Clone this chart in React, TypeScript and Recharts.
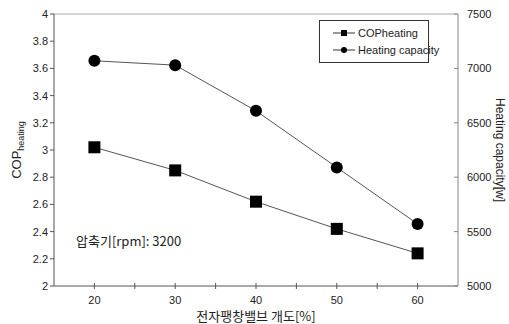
import React from "react";
import {
  LineChart,
  Line,
  XAxis,
  YAxis,
  ReferenceLine,
  Customized,
} from "recharts";

const openings = [20, 30, 40, 50, 60];
const copHeating = [3.02, 2.85, 2.62, 2.42, 2.24];
const heatingCapacity = [7070, 7030, 6610, 6090, 5570];
const xTicks = [20, 25, 30, 35, 40, 45, 50, 55, 60];
const leftTicks = [2, 2.2, 2.4, 2.6, 2.8, 3, 3.2, 3.4, 3.6, 3.8, 4];
const rightTicks = [5000, 5500, 6000, 6500, 7000, 7500];
const seriesNames = ["COPheating", "Heating capacity"];

const data = openings.map((o, i) => ({
  opening: o,
  cop: copHeating[i],
  cap: heatingCapacity[i],
}));

const FONT = "'Liberation Sans', Arial, sans-serif";
const KFONT = "'Noto Sans CJK KR', 'Liberation Sans', sans-serif";
const TXT = "#222";

const SquareDot = (props: any) => {
  const { cx, cy } = props;
  if (cx == null || cy == null) return null;
  return <rect x={cx - 6} y={cy - 6} width={12} height={12} fill="#000" />;
};
const CircleDot = (props: any) => {
  const { cx, cy } = props;
  if (cx == null || cy == null) return null;
  return <circle cx={cx} cy={cy} r={6} fill="#000" />;
};

const XTick = (props: any) => {
  const { x, y, payload } = props;
  const v = payload.value;
  return (
    <g>
      <line x1={x} x2={x} y1={y - 3} y2={y + 3} stroke="#555" />
      {v % 10 === 0 && (
        <text x={x} y={y + 18} textAnchor="middle" fontSize={11} fontFamily={FONT} fill={TXT}>
          {v}
        </text>
      )}
    </g>
  );
};

const RightTick = (props: any) => {
  const { x, y, payload } = props;
  return (
    <g>
      <line x1={x - 4} x2={x} y1={y} y2={y} stroke="#888" />
      <text x={x + 9} y={y + 4} fontSize={11} fontFamily={FONT} fill={TXT}>
        {payload.value}
      </text>
    </g>
  );
};

const LegendSvg = () => {
  const x0 = 319;
  const y0 = 20;
  return (
    <g>
      <rect x={x0 + 0.5} y={y0 + 0.5} width={109} height={42} fill="#fff" stroke="#333" />
      <line x1={x0 + 14} x2={x0 + 36} y1={y0 + 13} y2={y0 + 13} stroke="#333" />
      <rect x={x0 + 22} y={y0 + 10} width={6} height={6} fill="#000" />
      <text x={x0 + 39} y={y0 + 17} fontSize={11} fontFamily={FONT} fill={TXT}>
        {seriesNames[0]}
      </text>
      <line x1={x0 + 14} x2={x0 + 36} y1={y0 + 30} y2={y0 + 30} stroke="#333" />
      <circle cx={x0 + 25} cy={y0 + 30} r={3} fill="#000" />
      <text x={x0 + 39} y={y0 + 34} fontSize={11} fontFamily={FONT} fill={TXT}>
        {seriesNames[1]}
      </text>
    </g>
  );
};

export default function App() {
  return (
    <div style={{ position: "absolute", left: 0, top: 0, background: "#fff" }}>
      <LineChart
        width={509}
        height={324}
        data={data}
        margin={{ top: 14, right: 0, bottom: 0, left: 0 }}
      >
        <XAxis
          dataKey="opening"
          type="number"
          domain={[15, 65]}
          ticks={xTicks}
          interval={0}
          height={38}
          tickLine={false}
          tickSize={0}
          tickMargin={0}
          axisLine={{ stroke: "#555" }}
          tick={<XTick />}
          label={{
            content: (p: any) => {
              const vb = p.viewBox || {};
              return (
                <text
                  x={vb.x + vb.width / 2}
                  y={vb.y + 35}
                  textAnchor="middle"
                  fontSize={13}
                  fontFamily={KFONT}
                  fill={TXT}
                >
                  전자팽창밸브 개도[%]
                </text>
              );
            },
          }}
        />
        <YAxis
          yAxisId="left"
          orientation="left"
          domain={[2, 4]}
          ticks={leftTicks}
          interval={0}
          width={54}
          tickSize={4}
          tickLine={{ stroke: "#555" }}
          axisLine={{ stroke: "#555" }}
          tick={{ fontSize: 11, fontFamily: FONT, fill: TXT }}
          tickFormatter={(v: number) => String(Math.round(v * 10) / 10)}
          label={{
            content: (p: any) => {
              const vb = p.viewBox || {};
              const cx = 18;
              const cy = vb.y + vb.height / 2;
              return (
                <text
                  transform={`translate(${cx},${cy}) rotate(-90)`}
                  textAnchor="middle"
                  fontSize={13}
                  fontFamily={FONT}
                  fill={TXT}
                  dominantBaseline="middle"
                >
                  COP
                  <tspan fontSize={9} dy={4}>heating</tspan>
                </text>
              );
            },
          }}
        />
        <YAxis
          yAxisId="right"
          orientation="right"
          domain={[5000, 7500]}
          ticks={rightTicks}
          interval={0}
          width={51}
          tickLine={false}
          tickSize={0}
          tickMargin={0}
          axisLine={{ stroke: "#888" }}
          tick={<RightTick />}
          label={{
            content: (p: any) => {
              const vb = p.viewBox || {};
              const cx = 499;
              const cy = vb.y + vb.height / 2;
              return (
                <text
                  transform={`translate(${cx},${cy}) rotate(90)`}
                  textAnchor="middle"
                  fontSize={12}
                  fontFamily={FONT}
                  fill={TXT}
                  dominantBaseline="middle"
                >
                  Heating capacity[w]
                </text>
              );
            },
          }}
        />
        <ReferenceLine yAxisId="left" y={4} stroke="#aaa" />
        <Line
          yAxisId="left"
          dataKey="cop"
          stroke="#555"
          strokeWidth={1}
          dot={<SquareDot />}
          activeDot={false}
          isAnimationActive={false}
          name={seriesNames[0]}
        />
        <Line
          yAxisId="right"
          dataKey="cap"
          stroke="#555"
          strokeWidth={1}
          dot={<CircleDot />}
          activeDot={false}
          isAnimationActive={false}
          name={seriesNames[1]}
        />
        <Customized
          component={() => (
            <text x={76} y={246} fontSize={13} fontFamily={KFONT} fill={TXT}>
              압축기[rpm]: 3200
            </text>
          )}
        />
        <Customized component={() => <LegendSvg />} />
      </LineChart>
    </div>
  );
}
